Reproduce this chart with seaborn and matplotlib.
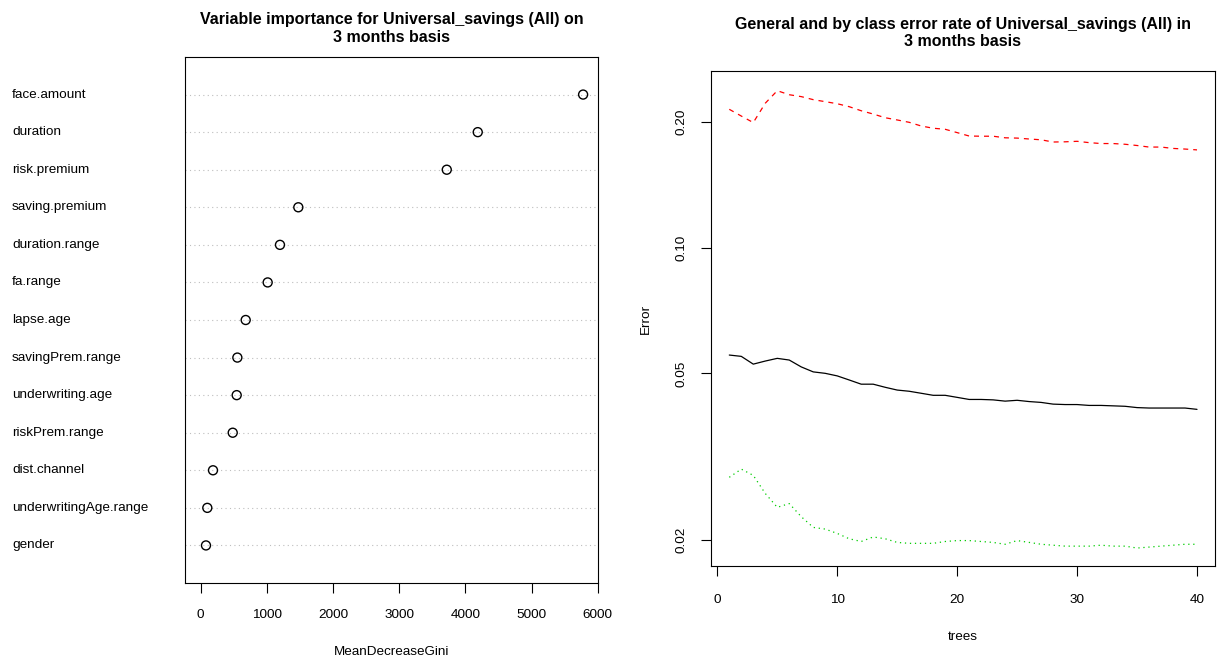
import numpy as np
import pandas as pd
import matplotlib
matplotlib.use("Agg")
import matplotlib.pyplot as plt
import matplotlib.transforms as mtransforms
import seaborn as sns

# ---------------- data ----------------
variables = ["face.amount", "duration", "risk.premium", "saving.premium",
             "duration.range", "fa.range", "lapse.age", "savingPrem.range",
             "underwriting.age", "riskPrem.range", "dist.channel",
             "underwritingAge.range", "gender"]
gini = [5778, 4186, 3718, 1475, 1198, 1012, 680, 554, 544, 484, 186, 100, 80]

trees = list(range(1, 41))
err_oob = [0.0553, 0.0549, 0.0526, 0.0535, 0.0543, 0.0538, 0.0518, 0.0504, 0.0500, 0.0493,
           0.0482, 0.0471, 0.0471, 0.0463, 0.0456, 0.0453, 0.0448, 0.0443, 0.0443, 0.0438,
           0.0433, 0.0433, 0.0432, 0.0429, 0.0431, 0.0428, 0.0426, 0.0422, 0.0421, 0.0421,
           0.0419, 0.0419, 0.0418, 0.0417, 0.0414, 0.0413, 0.0413, 0.0413, 0.0413, 0.0410]
err_class1 = [0.0282, 0.0295, 0.0285, 0.0258, 0.0239, 0.0244, 0.0227, 0.0214, 0.0212, 0.0207,
              0.0201, 0.0198, 0.0203, 0.0201, 0.0197, 0.0196, 0.0196, 0.0196, 0.0198, 0.0199,
              0.0199, 0.0198, 0.0197, 0.0195, 0.0199, 0.0197, 0.0195, 0.0194, 0.0193, 0.0193,
              0.0193, 0.0194, 0.0193, 0.0193, 0.0191, 0.0192, 0.0193, 0.0194, 0.0195, 0.0195]
err_class2 = [0.2141, 0.2063, 0.1990, 0.2214, 0.2372, 0.2320, 0.2296, 0.2258, 0.2233, 0.2208,
              0.2172, 0.2124, 0.2086, 0.2044, 0.2019, 0.1993, 0.1953, 0.1929, 0.1918, 0.1883,
              0.1848, 0.1846, 0.1846, 0.1830, 0.1827, 0.1818, 0.1810, 0.1788, 0.1790, 0.1795,
              0.1782, 0.1773, 0.1773, 0.1766, 0.1754, 0.1739, 0.1739, 0.1726, 0.1720, 0.1712]

x_ticks_left = [0, 1000, 2000, 3000, 4000, 5000, 6000]
x_ticks_right = [0, 10, 20, 30, 40]
y_ticks_right = [0.02, 0.05, 0.10, 0.20]
y_ticklabels_right = ["0.02", "0.05", "0.10", "0.20"]

# ---------------- style ----------------
sns.set_theme(style="ticks")
plt.rcParams["font.family"] = ["Liberation Sans", "DejaVu Sans"]
plt.rcParams["axes.linewidth"] = 0.8
plt.rcParams["xtick.major.width"] = 0.8
plt.rcParams["ytick.major.width"] = 0.8
plt.rcParams["xtick.major.size"] = 7
plt.rcParams["ytick.major.size"] = 7
plt.rcParams["xtick.color"] = "black"
plt.rcParams["ytick.color"] = "black"
plt.rcParams["xtick.labelcolor"] = "black"
plt.rcParams["ytick.labelcolor"] = "black"
plt.rcParams["axes.edgecolor"] = "black"
plt.rcParams["text.color"] = "black"
plt.rcParams["axes.labelcolor"] = "black"
plt.rcParams["axes.titlecolor"] = "black"

FS = 9.7
TFS = 11.5
W, H = 1218, 661
fig = plt.figure(figsize=(W / 100, H / 100), dpi=100)

def fig_rect(l, t, r, b):
    return [l / W, 1 - b / H, (r - l) / W, (b - t) / H]

# ---------------- left panel: dotchart ----------------
ax1 = fig.add_axes(fig_rect(185, 57, 598, 583))
n = len(variables)
df_imp = pd.DataFrame({"variable": variables, "gini": gini,
                       "pos": np.arange(n, 0, -1)})
for p in df_imp["pos"]:
    ax1.axhline(p, color="#bebebe", lw=0.8, ls=(0, (1, 3)), zorder=1)
sns.scatterplot(data=df_imp, x="gini", y="pos", ax=ax1, marker="o", s=42,
                facecolors="none", edgecolor="black", linewidth=1.0, zorder=3)
ax1.set_xlim(-237, 6003)
ax1.set_ylim(0, n + 1)
ax1.set_yticks([])
ax1.set_ylabel("")
ax1.set_xticks(x_ticks_left)
ax1.set_xticklabels([str(v) for v in x_ticks_left], fontsize=FS)
ax1.tick_params(axis="x", pad=12)
ax1.set_xlabel("MeanDecreaseGini", fontsize=FS, labelpad=18)
trans = mtransforms.blended_transform_factory(fig.transFigure, ax1.transData)
for v, p in zip(df_imp["variable"], df_imp["pos"]):
    ax1.text(12 / W, p, v, transform=trans, ha="left", va="center",
             fontsize=FS, color="black")
for s in ax1.spines.values():
    s.set_visible(True)
ax1.set_title("Variable importance for Universal_savings (All) on\n3 months basis",
              fontsize=TFS, fontweight="bold", pad=11, color="black")

# ---------------- right panel: error rates ----------------
ax2 = fig.add_axes(fig_rect(711, 71, 1215, 566))
df_err = pd.DataFrame({"trees": trees, "OOB": err_oob,
                       "class1": err_class1, "class2": err_class2})
sns.lineplot(data=df_err, x="trees", y="OOB", ax=ax2, color="black", lw=0.9)
sns.lineplot(data=df_err, x="trees", y="class2", ax=ax2, color="#FF0000", lw=0.9,
             dashes=False)
ax2.lines[-1].set_linestyle((0, (4, 4)))
sns.lineplot(data=df_err, x="trees", y="class1", ax=ax2, color="#00CD00", lw=0.9)
ax2.lines[-1].set_linestyle((0, (1, 3)))
ax2.set_yscale("log")
ax2.set_xlim(-0.525, 41.5)
ax2.set_ylim(0.0173, 0.2644)
ax2.set_yticks(y_ticks_right)
ax2.set_yticklabels(y_ticklabels_right, fontsize=FS, rotation=90, va="center")
ax2.yaxis.set_minor_locator(matplotlib.ticker.NullLocator())
ax2.set_xticks(x_ticks_right)
ax2.set_xticklabels([str(v) for v in x_ticks_right], fontsize=FS)
ax2.tick_params(axis="x", pad=13)
ax2.tick_params(axis="y", pad=10)
ax2.set_xlabel("trees", fontsize=FS, labelpad=18)
ax2.set_ylabel("Error", fontsize=FS, labelpad=17)
for s in ax2.spines.values():
    s.set_visible(True)
ax2.set_title("General and by class error rate of Universal_savings (All) in\n3 months basis",
              fontsize=TFS, fontweight="bold", pad=18, color="black")

fig.savefig("out.png", dpi=100)
